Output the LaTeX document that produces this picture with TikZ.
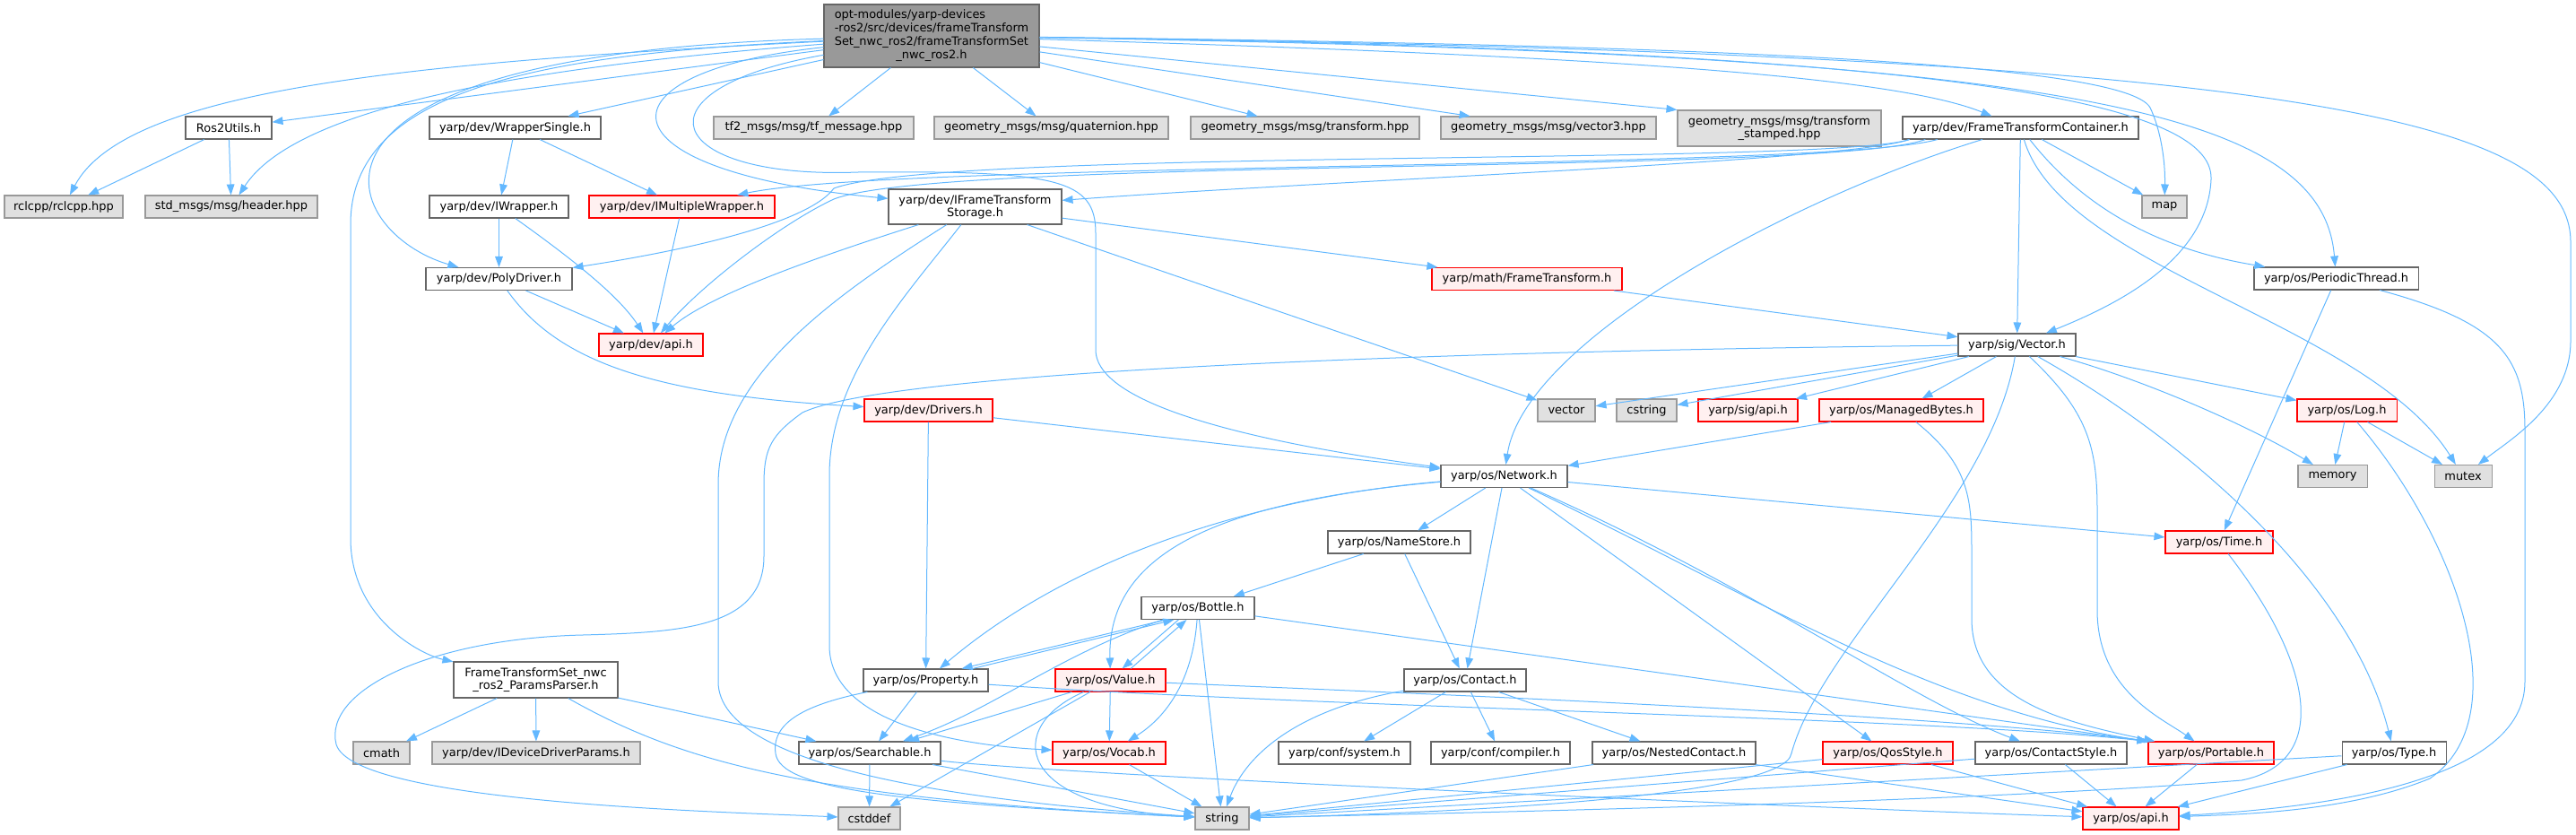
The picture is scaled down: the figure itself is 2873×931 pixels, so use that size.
\documentclass[tikz,border=0pt]{standalone}
\usepackage{fontspec}
\setmainfont{DejaVu Sans}
\usetikzlibrary{arrows.meta}

\definecolor{edgeblue}{HTML}{63B8FF}
\definecolor{sysgray}{HTML}{E0E0E0}
\definecolor{truncfill}{HTML}{FFF0F0}

\begin{document}
\begin{tikzpicture}[x=0.75pt, y=-0.75pt,
    box/.style={draw=black!60, fill=white, line width=0.8pt, inner sep=0pt,
      minimum height=18.75pt, align=center,
      font=\fontsize{9.7}{10.5}\selectfont},
    hdrbox/.style={box},
    sysbox/.style={box, draw=black!40, fill=sysgray},
    truncbox/.style={box, draw=red, fill=truncfill},
    mainbox/.style={box, draw=black!60, fill=black!40},
    bw/.style={minimum width=#1*0.75pt},
    bh/.style={minimum height=#1*0.75pt},
    inc/.style={edgeblue, line width=0.75pt, -{Triangle[length=9pt,width=6.5pt]}}]
  \useasboundingbox (0,0) rectangle (2873,931);
  % the header itself
  \node[mainbox, bw=240, bh=70, font=\fontsize{9.7}{11.25}\selectfont] (main) at (1039,40)
    {\begin{tabular}{@{}l@{}}opt-modules/yarp-devices\\
     -ros2/src/devices/frameTransform\\
     Set\_nwc\_ros2/frameTransformSet\\
     \multicolumn{1}{@{}c@{}}{\_nwc\_ros2.h}\end{tabular}};
  % first row
  \node[hdrbox, bw=96] (ros2utils) at (255,142.5) {Ros2Utils.h};
  \node[hdrbox, bw=191] (wrapsingle) at (574.5,142.5) {yarp/dev/WrapperSingle.h};
  \node[sysbox, bw=223] (tfmsg) at (907.5,142.5) {tf2\_msgs/msg/tf\_message.hpp};
  \node[sysbox, bw=261] (quat) at (1172.5,142.5) {geometry\_msgs/msg/quaternion.hpp};
  \node[sysbox, bw=255] (transf) at (1455.5,142.5) {geometry\_msgs/msg/transform.hpp};
  \node[sysbox, bw=240] (vec3) at (1727,142.5) {geometry\_msgs/msg/vector3.hpp};
  \node[sysbox, bw=227, bh=40] (tfstamped) at (1984.5,143) {geometry\_msgs/msg/transform\\\_stamped.hpp};
  \node[hdrbox, bw=263] (ftcont) at (2253.5,142.5) {yarp/dev/FrameTransformContainer.h};
  % second row
  \node[sysbox, bw=132] (rclcpp) at (71,230.5) {rclcpp/rclcpp.hpp};
  \node[sysbox, bw=192] (stdhdr) at (258,230.5) {std\_msgs/msg/header.hpp};
  \node[hdrbox, bw=155] (iwrapper) at (556.5,230.5) {yarp/dev/IWrapper.h};
  \node[truncbox, bw=207] (imultiwrap) at (760.5,230.5) {yarp/dev/IMultipleWrapper.h};
  \node[hdrbox, bw=193, bh=39] (iftstorage) at (1087.5,230.5) {yarp/dev/IFrameTransform\\Storage.h};
  \node[sysbox, bw=50] (map) at (2414,230.5) {map};
  % third and fourth row
  \node[hdrbox, bw=163] (polydrv) at (556.5,311) {yarp/dev/PolyDriver.h};
  \node[truncbox, bw=212] (mathft) at (1703,311) {yarp/math/FrameTransform.h};
  \node[hdrbox, bw=183] (perthread) at (2605.5,310.5) {yarp/os/PeriodicThread.h};
  \node[truncbox, bw=116] (devapi) at (726,384.5) {yarp/dev/api.h};
  \node[hdrbox, bw=131] (sigvector) at (2249.5,384.5) {yarp/sig/Vector.h};
  % fifth row
  \node[truncbox, bw=143] (drivers) at (1035.5,457.5) {yarp/dev/Drivers.h};
  \node[sysbox, bw=64] (vector) at (1747,457.5) {vector};
  \node[sysbox, bw=67] (cstring) at (1836.5,457.5) {cstring};
  \node[truncbox, bw=111] (sigapi) at (1949.5,457.5) {yarp/sig/api.h};
  \node[truncbox, bw=183] (mbytes) at (2120.5,457.5) {yarp/os/ManagedBytes.h};
  \node[truncbox, bw=111] (log) at (2617.5,457.5) {yarp/os/Log.h};
  % network level
  \node[hdrbox, bw=141] (network) at (1677.5,531) {yarp/os/Network.h};
  \node[sysbox, bw=77] (memory) at (2601.5,531) {memory};
  \node[sysbox, bw=64] (mutex) at (2747,531) {mutex};
  \node[hdrbox, bw=159] (namestore) at (1560.5,604.5) {yarp/os/NameStore.h};
  \node[truncbox, bw=120] (time) at (2475,604.5) {yarp/os/Time.h};
  \node[hdrbox, bw=126] (bottle) at (1336,678) {yarp/os/Bottle.h};
  % lower rows
  \node[hdrbox, bw=183, bh=40] (params) at (597.5,758) {FrameTransformSet\_nwc\\\_ros2\_ParamsParser.h};
  \node[hdrbox, bw=139] (property) at (1032.5,758.5) {yarp/os/Property.h};
  \node[truncbox, bw=123] (value) at (1238.5,758.5) {yarp/os/Value.h};
  \node[hdrbox, bw=136] (contact) at (1634,758.5) {yarp/os/Contact.h};
  \node[sysbox, bw=63] (cmath) at (425.5,839.5) {cmath};
  \node[sysbox, bw=232] (idevparams) at (598,839.5) {yarp/dev/IDeviceDriverParams.h};
  \node[hdrbox, bw=158] (searchable) at (970,839.5) {yarp/os/Searchable.h};
  \node[truncbox, bw=126] (vocab) at (1237,839.5) {yarp/os/Vocab.h};
  \node[hdrbox, bw=147] (confsys) at (1499.5,839.5) {yarp/conf/system.h};
  \node[hdrbox, bw=155] (confcomp) at (1673.5,839.5) {yarp/conf/compiler.h};
  \node[hdrbox, bw=182] (nested) at (1867,839.5) {yarp/os/NestedContact.h};
  \node[truncbox, bw=145] (qos) at (2105.5,839.5) {yarp/os/QosStyle.h};
  \node[hdrbox, bw=169] (cstyle) at (2287.5,839.5) {yarp/os/ContactStyle.h};
  \node[truncbox, bw=140] (portable) at (2466,839.5) {yarp/os/Portable.h};
  \node[hdrbox, bw=116] (type) at (2670,839.5) {yarp/os/Type.h};
  \node[sysbox, bw=69] (cstddef) at (969.5,912.5) {cstddef};
  \node[sysbox, bw=60] (string) at (1363,912.5) {string};
  \node[truncbox, bw=107] (osapi) at (2376.5,912.5) {yarp/os/api.h};

  % includes of the header itself
  \draw[inc] (main) .. controls (450,70) and (140,100) .. (rclcpp);
  \draw[inc] (main) -- (ros2utils);
  \draw[inc] (main) .. controls (580,75) and (330,120) .. (stdhdr);
  \draw[inc] (main) -- (wrapsingle);
  \draw[inc] (main) .. controls (280,60) and (380,260) .. (polydrv);
  \draw[inc] (main) .. controls (600,60) and (391,100) .. (391,250) -- (391,600)
    .. controls (391,690) and (470,730) .. (params);
  \draw[inc] (main) .. controls (660,80) and (660,190) .. (iftstorage);
  \draw[inc] (main) .. controls (700,100) and (740,200) .. (957,192)
    .. controls (1180,190) and (1222,200) .. (1222,260) -- (1222,390)
    .. controls (1222,460) and (1450,500) .. (network);
  \draw[inc] (main) -- (tfmsg);
  \draw[inc] (main) -- (quat);
  \draw[inc] (main) -- (transf);
  \draw[inc] (main) -- (vec3);
  \draw[inc] (main) -- (tfstamped.north west);
  \draw[inc] (main) .. controls (1700,60) and (2100,80) .. (ftcont);
  \draw[inc] (main) .. controls (1900,50) and (2370,70) .. (2398,120)
    .. controls (2410,145) and (2415,180) .. (map);
  \draw[inc] (main) .. controls (2150,55) and (2470,110) .. (2466,200)
    .. controls (2462,290) and (2360,340) .. (sigvector);
  \draw[inc] (main) .. controls (2300,60) and (2590,120) .. (perthread);
  \draw[inc] (main) .. controls (2550,60) and (2867,130) .. (2867,270) -- (2867,380)
    .. controls (2867,450) and (2800,490) .. (mutex);

  % frame transform container
  \draw[inc] (ftcont) -- (map);
  \draw[inc] (ftcont) -- (sigvector);
  \draw[inc] (ftcont) .. controls (2330,240) and (2420,280) .. (perthread);
  \draw[inc] (ftcont) .. controls (2300,300) and (2640,360) .. (mutex);
  \draw[inc] (ftcont) .. controls (2000,220) and (1700,380) .. (network);
  \draw[inc] (ftcont.186) .. controls (2060,180) and (1500,200) .. (iftstorage);
  \draw[inc] (ftcont.188) .. controls (2040,190) and (1000,180) .. (imultiwrap);
  \draw[inc] (ftcont.187) .. controls (2040,195) and (1050,175) .. (930,222)
    .. controls (870,250) and (780,320) .. (devapi);
  \draw[inc] (ftcont.186) .. controls (2040,185) and (1050,165) .. (930,210)
    .. controls (900,250) and (760,280) .. (polydrv);

  % wrappers and drivers
  \draw[inc] (ros2utils) -- (rclcpp);
  \draw[inc] (ros2utils) -- (stdhdr);
  \draw[inc] (wrapsingle) -- (iwrapper);
  \draw[inc] (wrapsingle) -- (imultiwrap);
  \draw[inc] (iwrapper) -- (polydrv);
  \draw[inc] (iwrapper) .. controls (640,290) and (690,330) .. (devapi);
  \draw[inc] (imultiwrap) -- (devapi);
  \draw[inc] (polydrv) -- (devapi);
  \draw[inc] (polydrv) .. controls (620,400) and (720,440) .. (drivers);
  \draw[inc] (drivers) -- (network);
  \draw[inc] (drivers) -- (property);

  % storage interface
  \draw[inc] (iftstorage) .. controls (900,290) and (790,330) .. (devapi);
  \draw[inc] (iftstorage) -- (mathft);
  \draw[inc] (iftstorage) -- (vector);
  \draw[inc] (iftstorage) .. controls (930,330) and (801,420) .. (801,540) -- (801,760)
    .. controls (801,860) and (1100,895) .. (string);
  \draw[inc] (iftstorage) .. controls (1010,330) and (925,420) .. (925,530) -- (925,720)
    .. controls (925,800) and (1050,830) .. (vocab);
  \draw[inc] (mathft) -- (sigvector);

  % vector
  \draw[inc] (sigvector) -- (vector);
  \draw[inc] (sigvector) -- (cstring);
  \draw[inc] (sigvector) -- (sigapi);
  \draw[inc] (sigvector) -- (mbytes);
  \draw[inc] (sigvector) -- (log);
  \draw[inc] (sigvector) .. controls (2380,420) and (2500,470) .. (memory);
  \draw[inc] (sigvector) .. controls (2220,560) and (2030,720) .. (1998,840)
    .. controls (1990,890) and (1600,907) .. (string);
  \draw[inc] (sigvector) .. controls (2330,460) and (2339,500) .. (2339,570) -- (2339,680)
    .. controls (2339,770) and (2410,800) .. (portable);
  \draw[inc] (sigvector) .. controls (2420,480) and (2620,640) .. (type);
  \draw[inc] (sigvector) .. controls (1700,390) and (1000,410) .. (895,460)
    .. controls (860,485) and (852,500) .. (852,540) -- (852,620)
    .. controls (852,700) and (760,705) .. (650,708)
    .. controls (480,712) and (360,770) .. (375,830)
    .. controls (395,895) and (800,905) .. (cstddef);

  % threads, log, time
  \draw[inc] (perthread) -- (time);
  \draw[inc] (perthread) .. controls (2790,360) and (2816,400) .. (2816,480) -- (2816,760)
    .. controls (2816,870) and (2600,900) .. (osapi);
  \draw[inc] (log) -- (memory);
  \draw[inc] (log) -- (mutex);
  \draw[inc] (log) .. controls (2740,600) and (2810,800) .. (2710,868)
    .. controls (2620,905) and (2500,908) .. (osapi);
  \draw[inc] (time) .. controls (2580,740) and (2600,850) .. (2500,870)
    .. controls (2200,895) and (1600,907) .. (string);
  \draw[inc] (mbytes) -- (network);
  \draw[inc] (mbytes) .. controls (2199,520) and (2199,560) .. (2199,620) -- (2199,690)
    .. controls (2199,780) and (2300,805) .. (portable);

  % network
  \draw[inc] (network) -- (namestore);
  \draw[inc] (network) -- (contact);
  \draw[inc] (network) -- (qos);
  \draw[inc] (network) .. controls (1950,650) and (2130,780) .. (cstyle);
  \draw[inc] (network) .. controls (1950,660) and (2150,790) .. (portable.north west);
  \draw[inc] (network) -- (time);
  \draw[inc] (network) .. controls (1450,550) and (1220,600) .. (property);
  \draw[inc] (network) .. controls (1350,560) and (1235,620) .. (value);
  \draw[inc] (namestore) -- (bottle);
  \draw[inc] (namestore) -- (contact);

  % bottle, property, value
  \draw[inc] (bottle.200) -- (property.18);
  \draw[inc] (property.14) -- (bottle.206);
  \draw[inc] (bottle.211) -- (value.45);
  \draw[inc] (value.30) -- (bottle.226);
  \draw[inc] (bottle) .. controls (1180,730) and (1110,790) .. (searchable);
  \draw[inc] (bottle) .. controls (1330,760) and (1300,800) .. (vocab);
  \draw[inc] (bottle) -- (string);
  \draw[inc] (bottle) -- (portable.north west);
  \draw[inc] (property) -- (searchable);
  \draw[inc] (property) .. controls (900,785) and (860,805) .. (865,840)
    .. controls (870,880) and (1000,895) .. (string);
  \draw[inc] (property) .. controls (1500,790) and (2150,800) .. (portable.north west);
  \draw[inc] (value) -- (searchable);
  \draw[inc] (value) -- (vocab);
  \draw[inc] (value) -- (cstddef);
  \draw[inc] (value) .. controls (1120,810) and (1130,900) .. (string);
  \draw[inc] (value) .. controls (1500,770) and (2150,795) .. (portable.north west);

  % searchable and parser
  \draw[inc] (searchable) -- (cstddef);
  \draw[inc] (searchable) -- (string);
  \draw[inc] (searchable) .. controls (1200,865) and (2000,900) .. (osapi);
  \draw[inc] (vocab) -- (string);
  \draw[inc] (params) -- (cmath);
  \draw[inc] (params) -- (idevparams);
  \draw[inc] (params) -- (searchable);
  \draw[inc] (params) .. controls (760,850) and (900,890) .. (string);

  % contact and styles
  \draw[inc] (contact) -- (confsys);
  \draw[inc] (contact) -- (confcomp);
  \draw[inc] (contact) -- (nested);
  \draw[inc] (contact) .. controls (1450,790) and (1390,840) .. (string);
  \draw[inc] (nested) -- (string);
  \draw[inc] (nested) -- (osapi);
  \draw[inc] (qos) -- (string);
  \draw[inc] (qos) -- (osapi);
  \draw[inc] (cstyle) -- (string);
  \draw[inc] (cstyle) -- (osapi);
  \draw[inc] (portable) -- (osapi);
  \draw[inc] (type) -- (string);
  \draw[inc] (type) -- (osapi);
\end{tikzpicture}
\end{document}
